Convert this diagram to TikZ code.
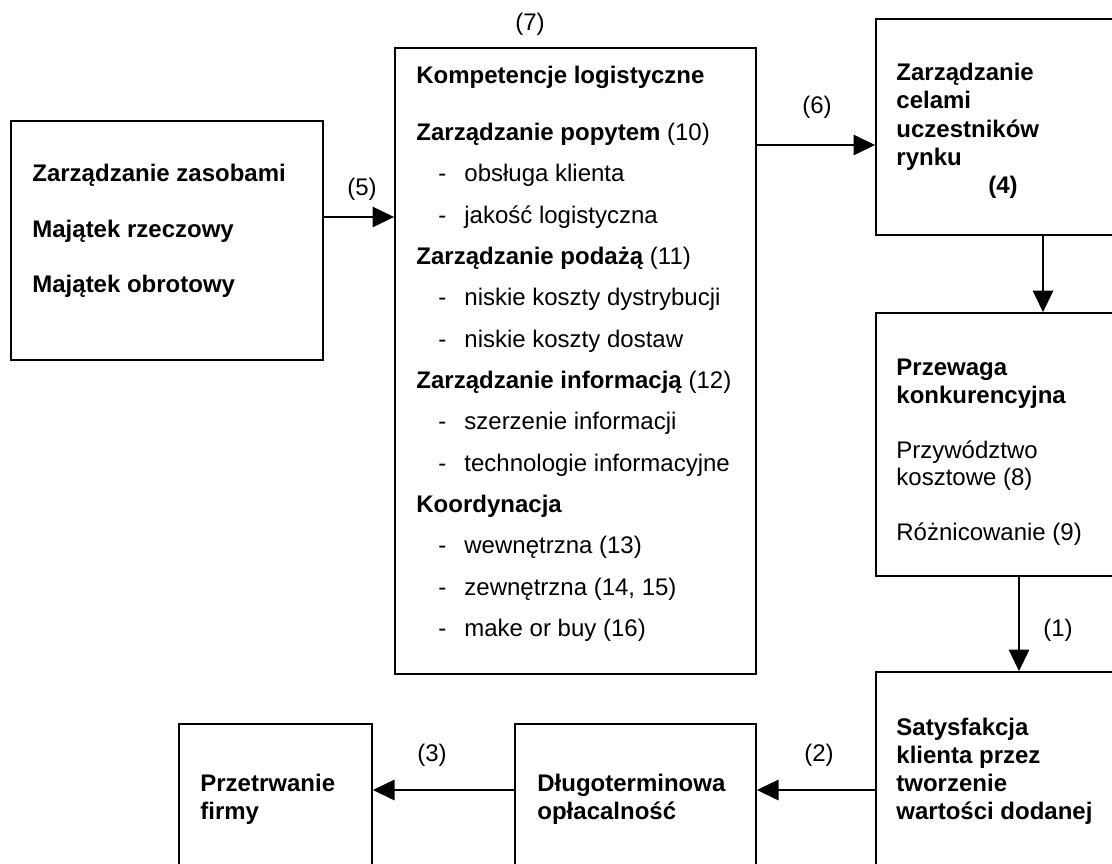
\documentclass[tikz,border=0pt]{standalone}
\usepackage{fontspec}
\setmainfont{Liberation Sans}
\usetikzlibrary{arrows.meta}

\tikzset{
	box/.style={draw,line width=0.9pt,rectangle,inner sep=0pt},
	txt/.style={anchor=west,inner sep=0pt,text height=8.6pt,text depth=0pt},
	lbl/.style={inner sep=0pt,text height=8.6pt,text depth=0pt},
	bf/.style={font=\fontsize{12pt}{13.8pt}\selectfont\bfseries},
	arr/.style={line width=0.9pt,-{Triangle[length=10.8pt,width=10.2pt]}}
}

\begin{document}
\begin{tikzpicture}[x=0.5pt,y=-0.5pt,font=\fontsize{12pt}{13.8pt}\selectfont]
\useasboundingbox (0,0) rectangle (1112,863);
\clip (0,0) rectangle (1112,863);

% boxes
\node[box,minimum width=156pt,minimum height=119.5pt] (zas) at (167,240.5) {};
\node[box,minimum width=180.5pt,minimum height=313pt] (komp) at (575.5,361) {};
\node[box,minimum width=167pt,minimum height=108pt] (cele) at (1043,127) {};
\node[box,minimum width=143pt,minimum height=131.5pt] (przew) at (1019,444.5) {};
\node[box,minimum width=147pt,minimum height=114pt] (satys) at (1023,786) {};
\node[box,minimum width=120.5pt,minimum height=88pt] (dlugo) at (635.5,812) {};
\node[box,minimum width=96.5pt,minimum height=88pt] (przetrw) at (275.5,812) {};

% resources
\foreach \k/\txt in {0/Zarządzanie zasobami, 1/Majątek rzeczowy, 2/Majątek obrotowy} {
	\node[txt,bf] (zas\k) at (32,173+\k*55.5) {\txt};
}

% competences
\node[txt,bf] (kompt) at (416,75) {Kompetencje logistyczne};
\foreach \k/\txt in {0/{\textbf{Zarządzanie popytem} (10)}, 3/{\textbf{Zarządzanie podażą} (11)},
	6/{\textbf{Zarządzanie informacją} (12)}, 9/{\textbf{Koordynacja}}} {
	\node[txt] (head\k) at (416,132+\k*41.33) {\txt};
}
\foreach \k/\txt in {1/obsługa klienta, 2/jakość logistyczna, 4/niskie koszty dystrybucji,
	5/niskie koszty dostaw, 7/szerzenie informacji, 8/technologie informacyjne,
	10/wewnętrzna (13), 11/{zewnętrzna (14, 15)}, 12/make or buy (16)} {
	\node[txt] (d\k) at (438,132+\k*41.33) {-};
	\node[txt] (it\k) at (464,132+\k*41.33) {\txt};
}

% right column
\foreach \k/\txt in {0/Zarządzanie, 1/celami, 2/uczestników, 3/rynku} {
	\node[txt,bf] (cele\k) at (896,72+\k*28.3) {\txt};
}
\node[lbl,bf] (cele4) at (1003,185) {(4)};

\foreach \k/\txt in {0/\textbf{Przewaga}, 1/\textbf{konkurencyjna}, 3/Przywództwo,
	4/kosztowe (8), 6/Różnicowanie (9)} {
	\node[txt] (przew\k) at (896,367+\k*27.5) {\txt};
}

\foreach \k/\txt in {0/Satysfakcja, 1/klienta przez, 2/tworzenie, 3/wartości dodanej} {
	\node[txt,bf] (satys\k) at (896,727+\k*28) {\txt};
}

% bottom row
\foreach \k/\txt in {0/Długoterminowa, 1/opłacalność} {
	\node[txt,bf] (dlugo\k) at (537,783+\k*28) {\txt};
}
\foreach \k/\txt in {0/Przetrwanie, 1/firmy} {
	\node[txt,bf] (przetrw\k) at (200,783+\k*28) {\txt};
}

% connectors
\coordinate (lev5) at (0,217);
\coordinate (lev6) at (0,145);
\coordinate (lev2) at (0,790);

\draw[arr] (zas.east |- lev5) -- (komp.west |- lev5);
\draw[arr] (komp.east |- lev6) -- (cele.west |- lev6);
\draw[arr] (cele.south) -- (cele.south |- przew.north);
\draw[arr] (przew.south) -- (przew.south |- satys.north);
\draw[arr] (satys.west |- lev2) -- (dlugo.east |- lev2);
\draw[arr] (dlugo.west |- lev2) -- (przetrw.east |- lev2);

% numbers
\node[lbl] (n5) at (362,187) {(5)};
\node[lbl] (n6) at (817,105) {(6)};
\node[lbl] (n7) at (530,22) {(7)};
\node[lbl] (n1) at (1058,628) {(1)};
\node[lbl] (n2) at (819,753) {(2)};
\node[lbl] (n3) at (432,753) {(3)};

\end{tikzpicture}
\end{document}
